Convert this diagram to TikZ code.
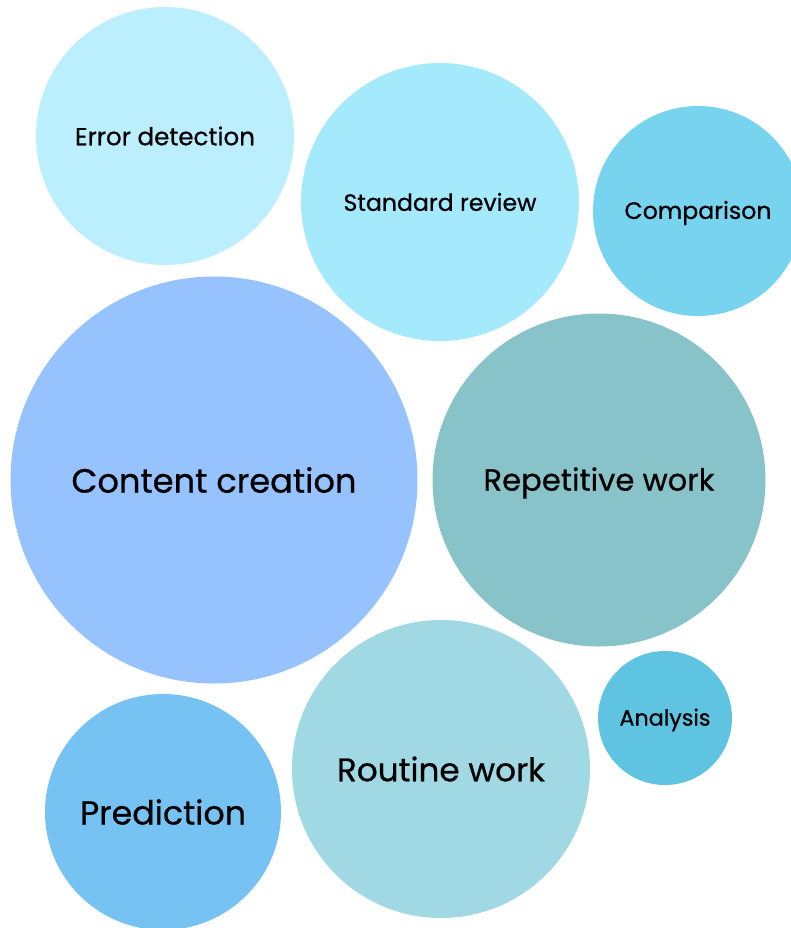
\documentclass[tikz,border=0pt]{standalone}
\usepackage{fontspec}
\setmainfont{Poppins}[FakeBold=0.6]
\usepackage{graphicx}
\definecolor{cErr}{HTML}{BBEFFD}
\definecolor{cStd}{HTML}{A5E9FD}
\definecolor{cCmp}{HTML}{78D3EF}
\definecolor{cCnt}{HTML}{96C2FE}
\definecolor{cRep}{HTML}{87C3C8}
\definecolor{cAna}{HTML}{5FC3E2}
\definecolor{cPre}{HTML}{76C2F2}
\definecolor{cRou}{HTML}{A0D9E3}
\newcommand{\fitw}[2]{\resizebox{#1}{!}{#2}}
\tikzset{
  bubble/.style={circle, fill=#1, draw=none, inner sep=0pt},
  lbl/.style={text=black, inner sep=0pt}
}
\begin{document}
\begin{tikzpicture}[x=1pt,y=-1pt]
\useasboundingbox (0,0) rectangle (791,928);
\begin{scope}
\clip (0,0) rectangle (791,928);
\node[bubble=cErr, minimum size=258pt] (err) at (165,136) {};
\node[bubble=cStd, minimum size=278pt] (std) at (440,202) {};
\node[bubble=cCmp, minimum size=210pt] (cmp) at (698,211) {};
\node[bubble=cCnt, minimum size=407pt] (cnt) at (214,480) {};
\node[bubble=cRep, minimum size=333pt] (rep) at (599,480) {};
\node[bubble=cAna, minimum size=134pt] (ana) at (665,718) {};
\node[bubble=cPre, minimum size=236pt] (pre) at (163,812) {};
\node[bubble=cRou, minimum size=298pt] (rou) at (441,769) {};
\end{scope}
\node[lbl] (terr) at (err.center) {\fitw{180pt}{Error detection}};
\node[lbl] (tstd) at (std.center) {\fitw{193pt}{Standard review}};
\node[lbl] (tcmp) at ([yshift=-2pt]cmp.center) {\fitw{147pt}{Comparison}};
\node[lbl] (tcnt) at (cnt.center) {\fitw{285pt}{Content creation}};
\node[lbl] (trep) at ([yshift=-3pt]rep.center) {\fitw{231pt}{Repetitive work}};
\node[lbl] (tana) at ([yshift=-2pt]ana.center) {\fitw{91pt}{Analysis}};
\node[lbl] (tpre) at (pre.center) {\fitw{166pt}{Prediction}};
\node[lbl] (trou) at (rou.center) {\fitw{208pt}{Routine work}};
\end{tikzpicture}
\end{document}
